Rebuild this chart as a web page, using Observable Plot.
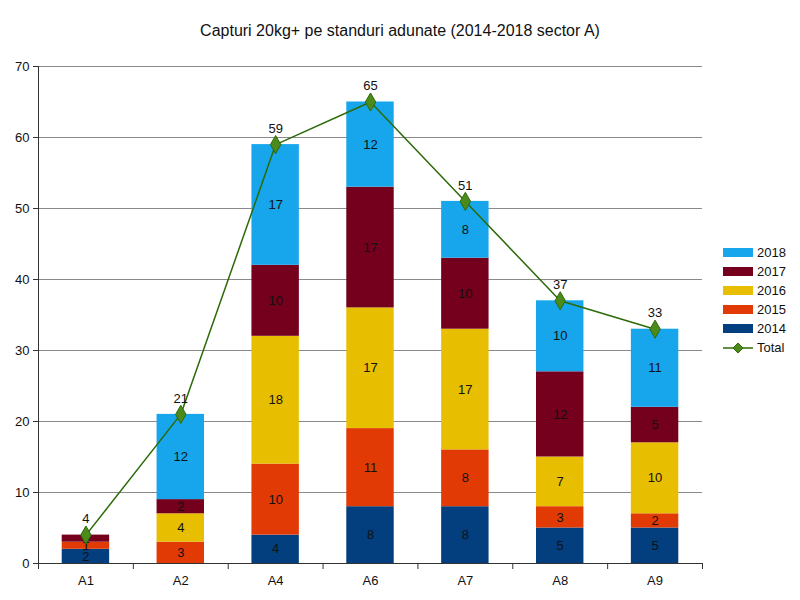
<!DOCTYPE html>
<html>
<head>
<meta charset="utf-8">
<script src="https://cdn.jsdelivr.net/npm/d3@7"></script>
<script src="https://cdn.jsdelivr.net/npm/@observablehq/plot@0.6"></script>
<style>
  body { margin: 0; background: #fff; font-family: "Liberation Sans", Arial, sans-serif; }
  #wrap { position: relative; width: 800px; height: 600px; }
  #title { height: 50px; line-height: 62px; text-align: center; font-size: 16px; color: #111; }
  #legend { position: absolute; left: 723px; top: 243px; font-size: 13px; color: #111; }
  .row { height: 19px; display: flex; align-items: center; }
  .sw { width: 30px; height: 9px; margin-right: 4px; }
</style>
</head>
<body>
<div id="wrap">
  <div id="title">Capturi 20kg+ pe standuri adunate (2014-2018 sector A)</div>
  <div id="chart"></div>
  <div id="legend"></div>
</div>
<script>
const cats = ["A1", "A2", "A4", "A6", "A7", "A8", "A9"];
const years = ["2014", "2015", "2016", "2017", "2018"];
const v2014 = [2, 0, 4, 8, 8, 5, 5];
const v2015 = [1, 3, 10, 11, 8, 3, 2];
const v2016 = [0, 4, 18, 17, 17, 7, 10];
const v2017 = [1, 2, 10, 17, 10, 12, 5];
const v2018 = [0, 12, 17, 12, 8, 10, 11];
const totals = [4, 21, 59, 65, 51, 37, 33];
const yTicks = [0, 10, 20, 30, 40, 50, 60, 70];
const colors = ["#033f7e", "#e23a05", "#e8bf00", "#74001e", "#17a6ec"];

const series = [v2014, v2015, v2016, v2017, v2018];
const data = [];
cats.forEach((c, i) => years.forEach((y, j) => data.push({cat: c, year: y, value: series[j][i]})));
const totalData = cats.map((c, i) => ({cat: c, total: totals[i]}));

const W = 800, H = 550, mL = 38, mR = 98, mT = 16, mB = 37;
const step = (W - mL - mR) / cats.length;
const font = "Liberation Sans, Arial, sans-serif";

const chart = Plot.plot({
  width: W, height: H,
  marginLeft: mL, marginRight: mR, marginTop: mT, marginBottom: mB,
  style: {fontFamily: font, fontSize: "13px", color: "#111", background: "#fff"},
  x: {domain: cats, paddingInner: 0.5, paddingOuter: 0.25, round: false, label: null},
  y: {domain: [0, 70], label: null},
  color: {domain: years, range: colors},
  marks: [
    Plot.gridY(yTicks, {stroke: "#8a8a8a", strokeOpacity: 1, strokeWidth: 1}),
    Plot.axisY(yTicks, {tickSize: 5, tickPadding: 4, fontSize: 13, stroke: "#333", label: null}),
    Plot.barY(data, Plot.stackY({x: "cat", y: "value", fill: "year", order: null})),
    Plot.text(data, Plot.stackY({x: "cat", y: "value", text: "value", filter: d => d.value > 0, fill: "#111", fontSize: 13, order: null})),
    Plot.ruleY([0], {stroke: "#333"}),
    Plot.ruleX(["A1"], {dx: -step / 2, stroke: "#333"}),
    Plot.axisX({tickSize: 0, tickPadding: 12, fontSize: 13, label: null}),
    Plot.axisX(cats, {tickSize: 6, text: null, dx: -step / 2, stroke: "#333", label: null}),
    Plot.axisX(["A9"], {tickSize: 6, text: null, dx: step / 2, stroke: "#333", label: null}),
    Plot.line(totalData, {x: "cat", y: "total", stroke: "#2c6a08", strokeWidth: 1.5}),
    Plot.dot(totalData, {x: "cat", y: "total", symbol: "diamond", r: 5.5, fill: "#4c8a1c", stroke: "#2c6a08", strokeWidth: 1}),
    Plot.text(totalData, {x: "cat", y: "total", text: "total", dy: -16, fill: "#111", fontSize: 13})
  ]
});
document.getElementById("chart").appendChild(chart);

const legend = document.getElementById("legend");
[...years].reverse().forEach(y => {
  const i = years.indexOf(y);
  const r = document.createElement("div");
  r.className = "row";
  r.innerHTML = `<div class="sw" style="background:${colors[i]}"></div><span>${y}</span>`;
  legend.appendChild(r);
});
const tr = document.createElement("div");
tr.className = "row";
tr.innerHTML = `<svg width="34" height="12"><line x1="0" y1="6" x2="30" y2="6" stroke="#2c6a08" stroke-width="1.5"/><path d="M15,1 L20,6 L15,11 L10,6 Z" fill="#4c8a1c" stroke="#2c6a08"/></svg><span>Total</span>`;
legend.appendChild(tr);
</script>
</body>
</html>
